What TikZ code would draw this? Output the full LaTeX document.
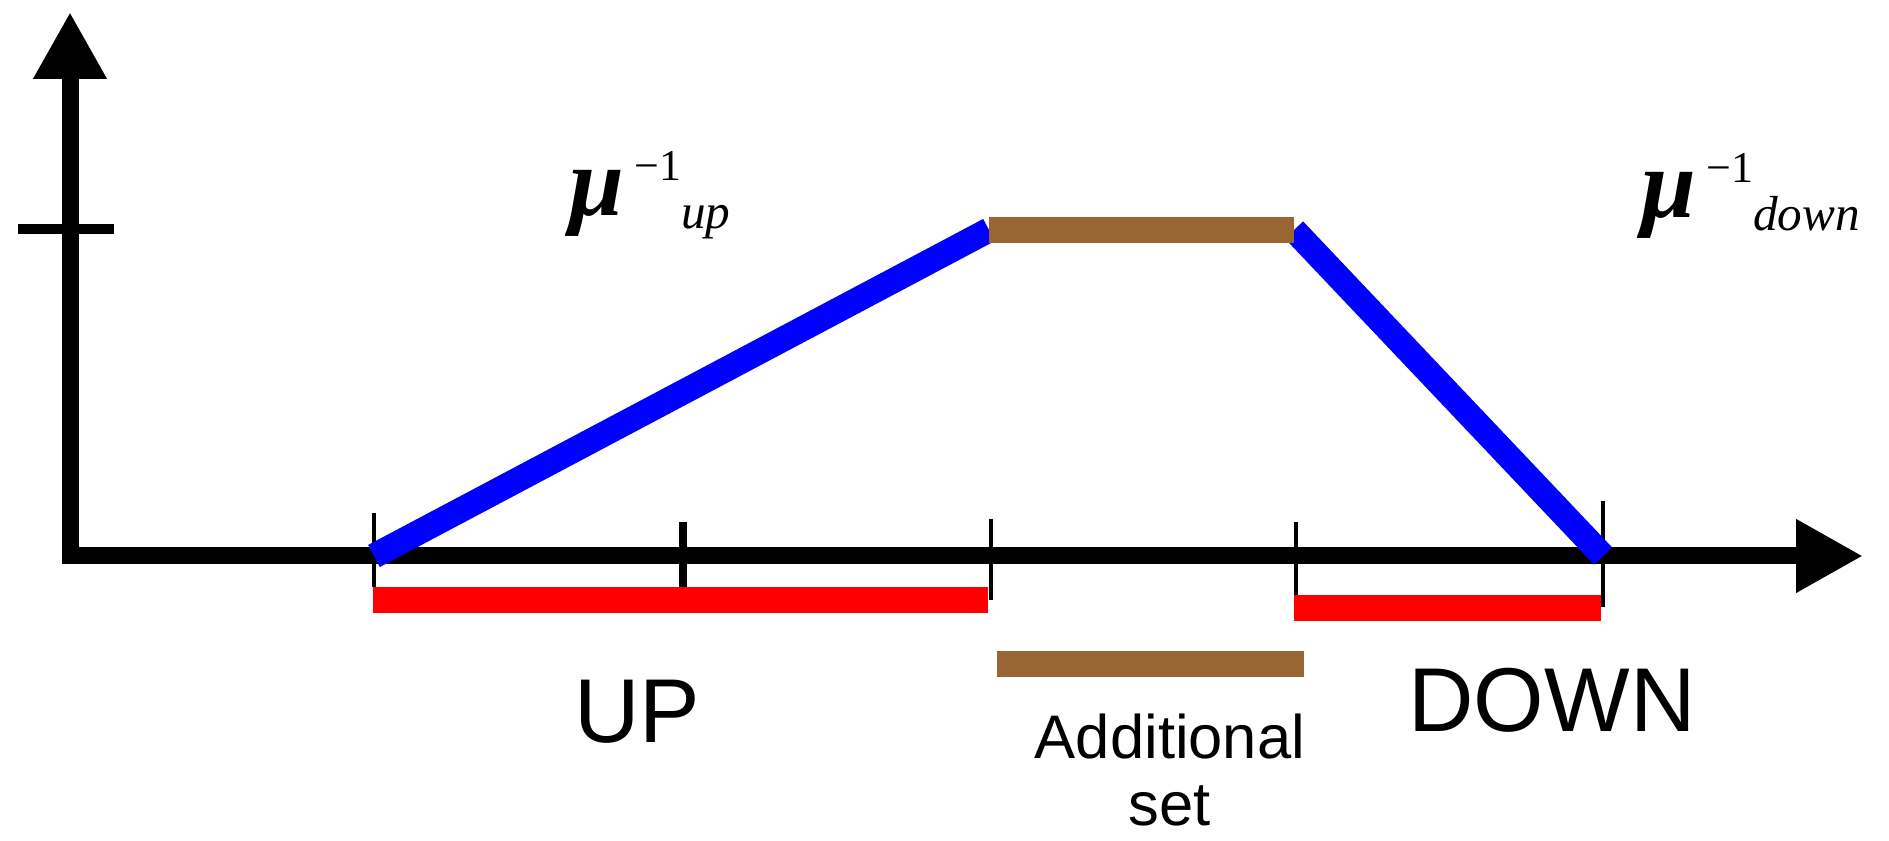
\documentclass[tikz,border=0pt]{standalone}
\usepackage{fontspec}
\setmainfont{Liberation Sans}
\newfontfamily\seriffont{Liberation Serif}
\usetikzlibrary{arrows.meta}
\definecolor{setbrown}{RGB}{153,102,51}

\begin{document}
\begin{tikzpicture}[
    axisline/.style={line width=0.17cm, line join=miter,
        {Triangle[length=0.67cm,width=0.69cm]}-{Triangle[length=0.67cm,width=0.69cm]}},
    tickmark/.style={line width=0.04cm},
    mfline/.style={blue, line width=0.25cm},
    setbar/.style={red, line width=0.26cm},
    addbar/.style={setbrown, line width=0.26cm},
    biglabel/.style={inner sep=0, anchor=base, font=\fontsize{25.8}{30}\selectfont},
    mulabel/.style={inner sep=0, anchor=base west}
]
\useasboundingbox (0,0) rectangle (18.89,8.41);

    % Axes
    \coordinate (ytip) at (0.70,8.29);
    \coordinate (o) at (0.70,2.85);
    \coordinate (xtip) at (18.63,2.85);
    \draw[axisline] (ytip) -- (o) -- (xtip);
    \draw[line width=0.1cm] (0.18,6.12) -- (1.14,6.12);

    % Ticks on the x axis
    \foreach \x/\t/\b in {3.74/3.28/2.54, 9.91/3.22/2.41, 12.96/3.19/2.34, 16.03/3.40/2.34}
        \draw[tickmark] (\x,\t) -- (\x,\b);
    \draw[line width=0.08cm] (6.83,3.19) -- (6.83,2.54);

    % Membership function
    \coordinate (upstart) at (3.74,2.85);
    \coordinate (topleft) at (9.89,6.11);
    \coordinate (topright) at (12.94,6.11);
    \coordinate (downend) at (16.03,2.85);
    \draw[mfline] (upstart) -- (topleft);
    \draw[mfline] (topright) -- (downend);
    \draw[addbar] (topleft) -- (topright);

    % Sets
    \coordinate (upa) at (3.73,2.41);
    \coordinate (upb) at (9.88,2.41);
    \coordinate (downa) at (12.94,2.33);
    \coordinate (downb) at (16.01,2.33);
    \coordinate (adda) at (9.97,1.77);
    \coordinate (addb) at (13.04,1.77);
    \draw[setbar] (upa) -- (upb);
    \draw[setbar] (downa) -- (downb);
    \draw[addbar] (adda) -- (addb);

    % Labels
    \node[biglabel] (up) at (6.37,0.98) {UP};
    \node[biglabel] (down) at (15.52,1.09) {DOWN};
    \node[inner sep=0, anchor=north, align=center,
        font=\fontsize{17.5}{19}\selectfont] (addset) at (11.70,1.28) {Additional\\set};
    \node[mulabel] (muup) at (5.69,6.25) {{\seriffont\bfseries\itshape\fontsize{28}{28}\selectfont μ}\hspace{0.1cm}\raisebox{10pt}{\seriffont\fontsize{12.5}{12.5}\selectfont −1}\raisebox{-3.5pt}{\seriffont\itshape\fontsize{14}{14}\selectfont up}};
    \node[mulabel] (mudown) at (16.41,6.23) {{\seriffont\bfseries\itshape\fontsize{28}{28}\selectfont μ}\hspace{0.1cm}\raisebox{10pt}{\seriffont\fontsize{12.5}{12.5}\selectfont −1}\raisebox{-3.5pt}{\seriffont\itshape\fontsize{14}{14}\selectfont down}};
\end{tikzpicture}
\end{document}
